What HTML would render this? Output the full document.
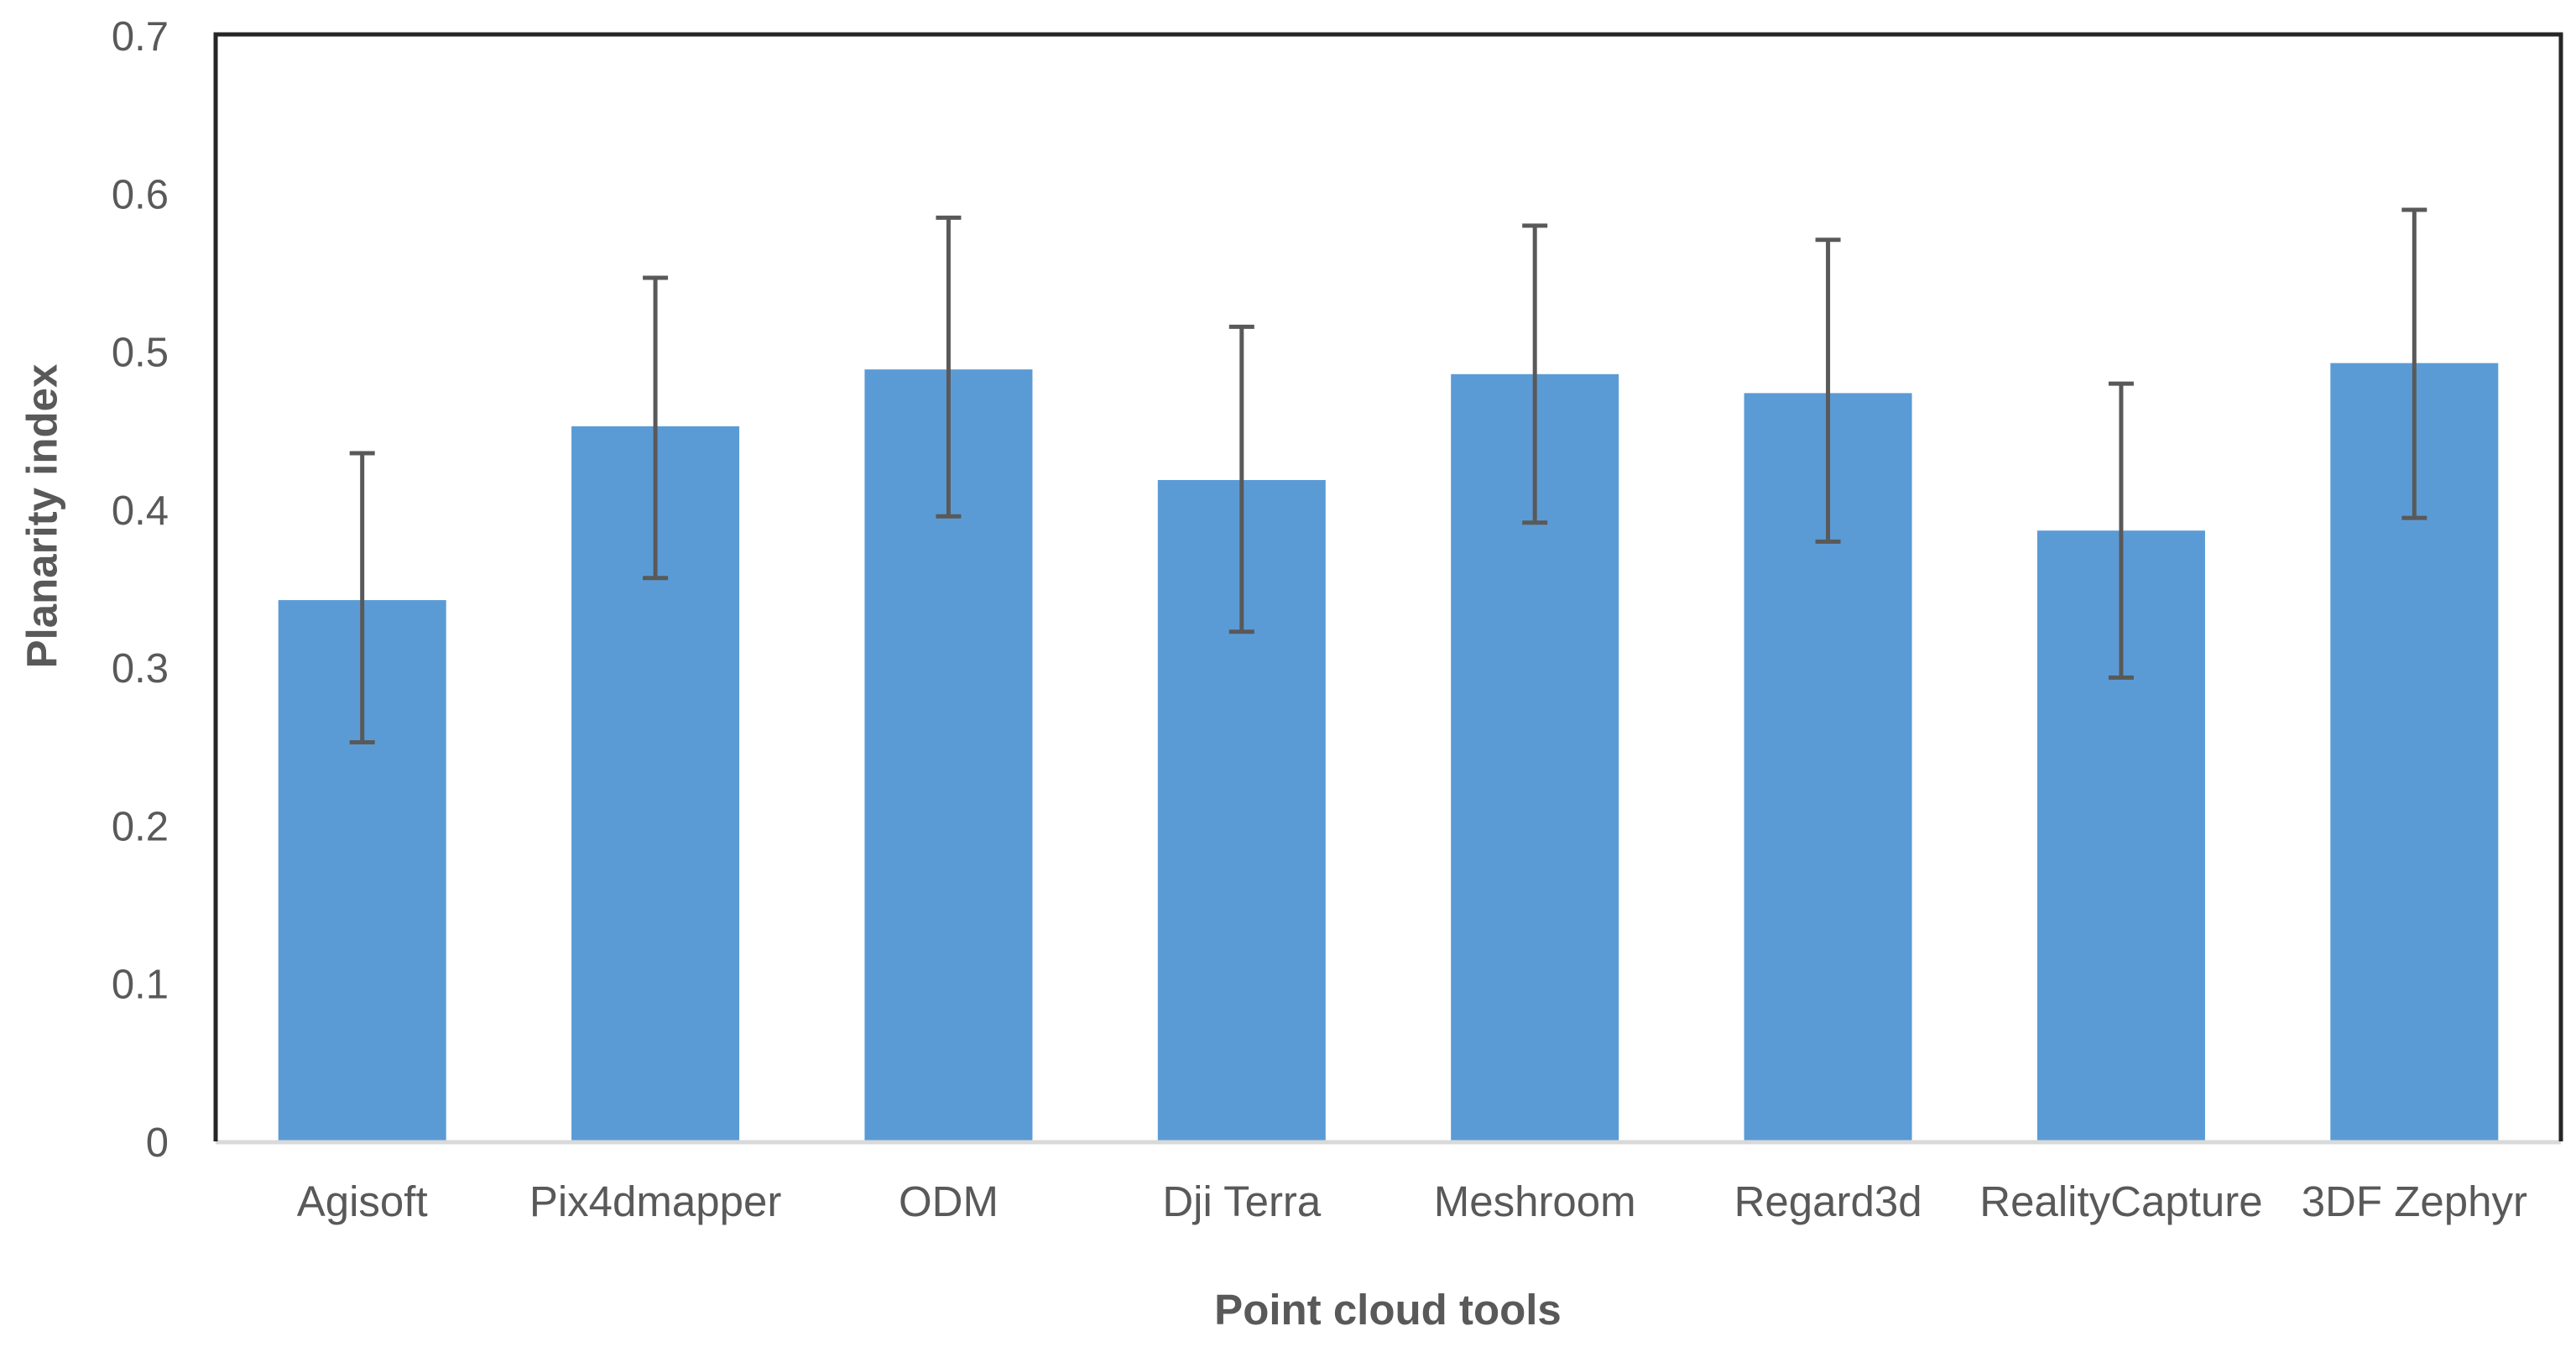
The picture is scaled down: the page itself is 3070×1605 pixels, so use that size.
<!DOCTYPE html>
<html><head><meta charset="utf-8"><style>
html,body{margin:0;padding:0;background:#fff;}
svg{display:block;font-family:"Liberation Sans",sans-serif;}
</style></head><body>
<svg id="chart" width="3070" height="1605" viewBox="0 0 3070 1605" xmlns="http://www.w3.org/2000/svg">
<rect x="0" y="0" width="3070" height="1605" fill="#fff"/>
<g id="bars"></g>
<g id="errs"></g>
<g id="yticks"></g>
<g id="xlabels"></g>
<line x1="257" y1="1361" x2="3052" y2="1361" stroke="#d9d9d9" stroke-width="5"/>
<path d="M257 1360 V41 H3052 V1360" fill="none" stroke="#262626" stroke-width="5"/>
<text x="50" y="615" transform="rotate(-90 50 615)" text-anchor="middle" dominant-baseline="central" font-size="51" font-weight="bold" fill="#595959">Planarity index</text>
<text x="1654" y="1578" text-anchor="middle" font-size="51" font-weight="bold" fill="#595959">Point cloud tools</text>
</svg>
<script>
const categories = ["Agisoft","Pix4dmapper","ODM","Dji Terra","Meshroom","Regard3d","RealityCapture","3DF Zephyr"];
const values = [0.342,0.452,0.488,0.418,0.485,0.473,0.386,0.492];
const errUpper = [0.435,0.546,0.584,0.515,0.579,0.570,0.479,0.589];
const errLower = [0.252,0.356,0.395,0.322,0.391,0.379,0.293,0.394];
const yTicks = [0,0.1,0.2,0.3,0.4,0.5,0.6,0.7];
const yTickLabels = ["0","0.1","0.2","0.3","0.4","0.5","0.6","0.7"];

const NS = "http://www.w3.org/2000/svg";
const plotL = 257, plotR = 3052, y0 = 1359, yTop = 41, yMax = 0.7;
const band = (plotR - plotL) / categories.length;
const barW = 200;
function yScale(v){ return y0 - (v / yMax) * (y0 - yTop); }
function xCenter(i){ return plotL + band * (i + 0.5); }
function mk(tag, attrs){ const e = document.createElementNS(NS, tag); for (const k in attrs) e.setAttribute(k, attrs[k]); return e; }

const gB = document.getElementById('bars'), gE = document.getElementById('errs'),
      gY = document.getElementById('yticks'), gX = document.getElementById('xlabels');

yTicks.forEach((t, i) => {
  const tx = mk('text', {x: 201, y: yScale(t) + 19, 'text-anchor': 'end', 'font-size': 49, fill: '#595959'});
  tx.textContent = yTickLabels[i];
  
  
  gY.appendChild(tx);
});

categories.forEach((c, i) => {
  const cx = xCenter(i);
  const r = mk('rect', {x: cx - barW/2, y: yScale(values[i]), width: barW, height: y0 - yScale(values[i]), fill: '#5b9bd5'});
  
  
  gB.appendChild(r);

  const yu = yScale(errUpper[i]), yl = yScale(errLower[i]);
  const p = mk('path', {d: `M${cx} ${yu} V${yl} M${cx-15} ${yu} H${cx+15} M${cx-15} ${yl} H${cx+15}`, stroke: '#595959', 'stroke-width': 5, fill: 'none'});
  
  
  gE.appendChild(p);

  const t = mk('text', {x: cx, y: 1449, 'text-anchor': 'middle', 'font-size': 51, fill: '#595959'});
  t.textContent = c;
  
  
  gX.appendChild(t);
});
</script>
</body></html>
